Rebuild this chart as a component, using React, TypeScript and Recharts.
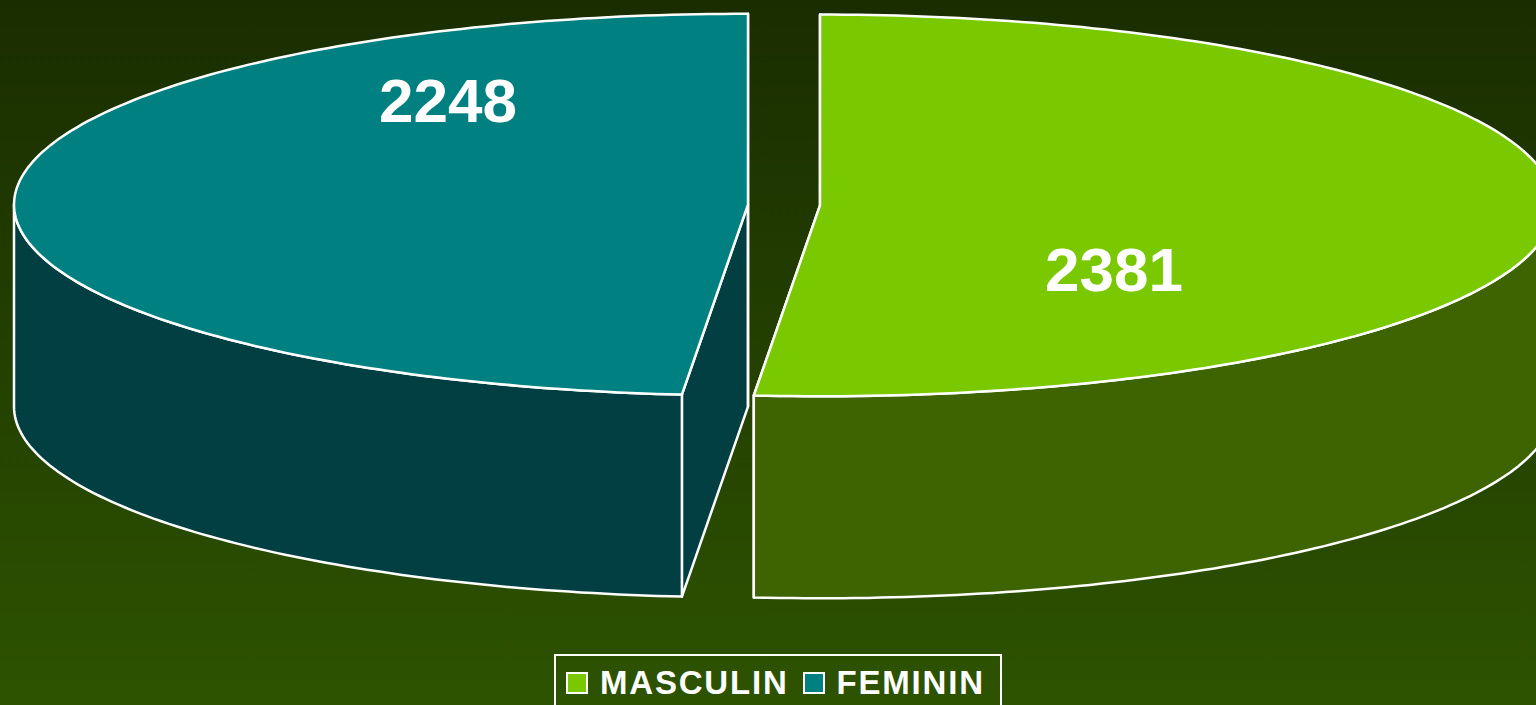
import React from 'react'
import { PieChart, Pie, Cell, Legend } from 'recharts'

// values
const categories = ['MASCULIN', 'FEMININ']
const counts = [2381, 2248]

const topColors = ['#7ac800', '#008080']
const sideColors = ['#3d6400', '#023f42']

const W = 1536
const H = 705
const TILT = 0.26
const DEPTH = 202
const EXPLODE = 36
const RAD = Math.PI / 180

const data = categories.map((name, i) => ({ name, value: counts[i] }))

function pt(cx: number, cy: number, rx: number, ry: number, a: number) {
   return [cx + rx * Math.cos(a * RAD), cy - ry * Math.sin(a * RAD)]
}

function arcPoints(cx: number, cy: number, rx: number, ry: number, a0: number, a1: number) {
   const pts: number[][] = []
   const n = Math.max(2, Math.ceil(Math.abs(a1 - a0)))
   for (let i = 0; i <= n; i++) {
      pts.push(pt(cx, cy, rx, ry, a0 + ((a1 - a0) * i) / n))
   }
   return pts
}

const toPath = (pts: number[][]) =>
   'M' + pts.map((p) => `${p[0].toFixed(1)},${p[1].toFixed(1)}`).join('L') + 'Z'

// 3D slice drawn from the angles recharts computed
function Slice3D(props: any) {
   const { cx, cy, outerRadius, startAngle, endAngle, midAngle, index } = props
   const rx = outerRadius
   const ry = outerRadius * TILT
   const ox = cx + EXPLODE * Math.cos(midAngle * RAD)
   const oy = cy - EXPLODE * Math.sin(midAngle * RAD) * TILT
   const top = topColors[index % topColors.length]
   const side = sideColors[index % sideColors.length]

   const lo = Math.min(startAngle, endAngle)
   const hi = Math.max(startAngle, endAngle)

   // radial cut faces
   const faces = [startAngle, endAngle].map((a) => {
      const p = pt(ox, oy, rx, ry, a)
      return toPath([
         [ox, oy],
         p,
         [p[0], p[1] + DEPTH],
         [ox, oy + DEPTH],
      ])
   })

   // outer wall, only front half
   const walls: string[] = []
   for (let k = -2; k <= 2; k++) {
      const a0 = Math.max(lo, 180 + 360 * k)
      const a1 = Math.min(hi, 360 + 360 * k)
      if (a0 < a1) {
         const upper = arcPoints(ox, oy, rx, ry, a0, a1)
         const lower = upper.map((p) => [p[0], p[1] + DEPTH]).reverse()
         walls.push(toPath([...upper, ...lower]))
      }
   }

   const topFace = toPath([[ox, oy], ...arcPoints(ox, oy, rx, ry, startAngle, endAngle)])

   return (
      <g>
         {faces.map((d, i) => (
            <path key={'f' + i} d={d} fill={side} stroke="#fff" strokeWidth={2.5} strokeLinejoin="round" />
         ))}
         {walls.map((d, i) => (
            <path key={'w' + i} d={d} fill={side} stroke="#fff" strokeWidth={2.5} strokeLinejoin="round" />
         ))}
         <path d={topFace} fill={top} stroke="#fff" strokeWidth={2.5} strokeLinejoin="round" />
      </g>
   )
}

function renderLabel(props: any) {
   const { cx, cy, outerRadius, midAngle, value } = props
   const rx = outerRadius
   const ry = outerRadius * TILT
   const ox = cx + EXPLODE * Math.cos(midAngle * RAD)
   const oy = cy - EXPLODE * Math.sin(midAngle * RAD) * TILT
   const [x, y] = pt(ox, oy, rx * 0.6, ry * 0.6, midAngle - 45)
   return (
      <text
         x={x - 3}
         y={y - 20}
         textAnchor="middle"
         dominantBaseline="central"
         fill="#fff"
         fontFamily="'Liberation Sans', Arial, sans-serif"
         fontWeight="bold"
         fontSize={62}
      >
         {value}
      </text>
   )
}

function LegendBox(props: any) {
   const items = [...(props.payload || [])].sort(
      (a: any, b: any) => categories.indexOf(a.value) - categories.indexOf(b.value)
   )
   return (
      <div
         style={{
            border: '2px solid #fff',
            height: 64,
            boxSizing: 'border-box',
            display: 'flex',
            alignItems: 'flex-start',
            paddingTop: 14,
            paddingLeft: 10,
            fontFamily: "'Liberation Sans', Arial, sans-serif",
            fontWeight: 'bold',
            fontSize: 33,
            letterSpacing: 1.8,
            color: '#fff',
            lineHeight: '26px',
         }}
      >
         {items.map((it: any) => {
            const ci = categories.indexOf(it.value)
            return (
               <div key={it.value} style={{ display: 'flex', alignItems: 'center', marginRight: 14 }}>
                  <span
                     style={{
                        display: 'inline-block',
                        width: 22,
                        height: 22,
                        boxSizing: 'border-box',
                        border: '2px solid #fff',
                        background: topColors[ci],
                        marginRight: 12,
                     }}
                  />
                  <span>{it.value}</span>
               </div>
            )
         })}
      </div>
   )
}

export default function App() {
   return (
      <div
         style={{
            width: W,
            height: H,
            overflow: 'hidden',
            background: 'linear-gradient(to bottom, #1a2d00 0%, #2d5300 100%)',
         }}
      >
         <style>{'body{margin:0}'}</style>
         <PieChart width={W} height={H} margin={{ top: 0, right: 0, bottom: 0, left: 0 }}>
            <Pie
               data={data}
               dataKey="value"
               nameKey="name"
               cx={784}
               cy={205}
               outerRadius={734}
               startAngle={90}
               endAngle={-270}
               isAnimationActive={false}
               shape={Slice3D}
               activeShape={Slice3D}
               inactiveShape={Slice3D}
               label={renderLabel}
               labelLine={false}
            >
               {data.map((d, i) => (
                  <Cell key={d.name} fill={topColors[i]} />
               ))}
            </Pie>
            <Legend
               content={LegendBox}
               wrapperStyle={{ left: 554, top: 654, width: 448, bottom: 'auto' }}
            />
         </PieChart>
      </div>
   )
}
